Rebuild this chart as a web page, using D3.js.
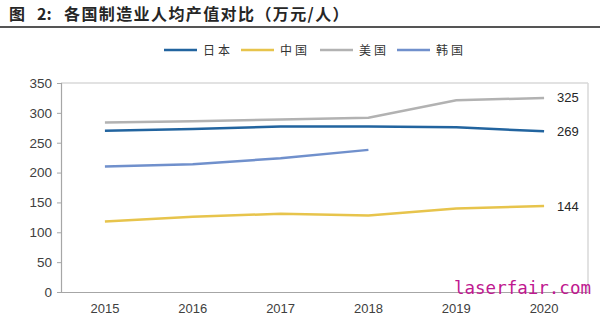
<!DOCTYPE html>
<html>
<head>
<meta charset="utf-8">
<script src="https://cdn.jsdelivr.net/npm/d3@7"></script>
<style>
  body { margin: 0; background: #fff; }
  svg { display: block; }
</style>
</head>
<body>
<div id="chart"></div>
<script>
// per-capita manufacturing output, 10k yuan per person
var years = ["2015", "2016", "2017", "2018", "2019", "2020"];
var japan = [270, 273, 277, 277, 276, 269];
var china = [118, 126, 131, 128, 140, 144];
var usa   = [284, 286, 289, 292, 321, 325];
var korea = [210, 214, 224, 238];
var yTicks = [0, 50, 100, 150, 200, 250, 300, 350];

var series = [
  {name: "日本", values: japan, color: "#22649f", label: true},
  {name: "中国", values: china, color: "#e7c44c", label: true},
  {name: "美国", values: usa,   color: "#b2b2b2", label: true},
  {name: "韩国", values: korea, color: "#7090cc", label: false}
];

var W = 600, H = 321;
var margin = {top: 83, right: 12, bottom: 29, left: 61},
    width = W - margin.left - margin.right,
    height = H - margin.top - margin.bottom;

var svg = d3.select("#chart").append("svg")
    .attr("width", W)
    .attr("height", H);

// title pieces and rule underneath
var title = svg.append("text")
    .attr("y", 20)
    .attr("font-family", "'Noto Sans CJK SC', sans-serif")
    .attr("font-size", 16)
    .attr("font-weight", "bold")
    .attr("fill", "#262626");
title.append("tspan").attr("x", 9).text("图");
title.append("tspan").attr("x", 37).text("2:");
title.append("tspan").attr("x", 64).attr("letter-spacing", 1.4)
    .text("各国制造业人均产值对比（万元/人）");

svg.append("line")
    .attr("x1", 0).attr("x2", W)
    .attr("y1", 27).attr("y2", 27)
    .attr("stroke", "#555")
    .attr("stroke-width", 2);

// legend
var legend = svg.append("g").attr("transform", "translate(164,50)");
var legX = [0, 77, 156, 233];
series.forEach(function(s, i) {
  var g = legend.append("g").attr("transform", "translate(" + legX[i] + ",0)");
  g.append("line")
      .attr("x1", 0).attr("x2", 33)
      .attr("y1", 0).attr("y2", 0)
      .attr("stroke", s.color)
      .attr("stroke-width", 2.5);
  g.append("text")
      .attr("x", 39)
      .attr("y", 4.5)
      .attr("font-family", "'Noto Sans CJK SC', sans-serif")
      .attr("font-size", 12)
      .attr("letter-spacing", 3)
      .attr("fill", "#333")
      .text(s.name);
});

var plot = svg.append("g")
    .attr("transform", "translate(" + margin.left + "," + margin.top + ")");

var x = d3.scaleBand()
    .domain(years)
    .range([0, width]);

var y = d3.scaleLinear()
    .domain([0, 350])
    .range([height, 0]);

// light frame on top and right
plot.append("line")
    .attr("x1", 0).attr("x2", width)
    .attr("y1", 0).attr("y2", 0)
    .attr("stroke", "#d9d9d9")
    .attr("stroke-width", 1.5);
plot.append("line")
    .attr("x1", width).attr("x2", width)
    .attr("y1", 0).attr("y2", height)
    .attr("stroke", "#d9d9d9")
    .attr("stroke-width", 1.5);

var yAxis = plot.append("g")
    .call(d3.axisLeft(y).tickValues(yTicks).tickSize(4).tickPadding(5));
yAxis.select(".domain").attr("stroke", "#a6a6a6").attr("stroke-width", 1.2);
yAxis.selectAll(".tick line").attr("stroke", "#a6a6a6");
yAxis.selectAll(".tick text")
    .attr("font-family", "Arial, 'Liberation Sans', sans-serif")
    .attr("font-size", 13.5)
    .attr("fill", "#404040");

var xAxis = plot.append("g")
    .attr("transform", "translate(0," + height + ")")
    .call(d3.axisBottom(x).tickSize(0).tickPadding(12));
xAxis.select(".domain").attr("stroke", "#a6a6a6").attr("stroke-width", 1.2);
xAxis.selectAll(".tick text")
    .attr("font-family", "Arial, 'Liberation Sans', sans-serif")
    .attr("font-size", 13)
    .attr("fill", "#404040");

var line = d3.line()
    .x(function(d, i) { return x(years[i]) + x.bandwidth() / 2; })
    .y(function(d) { return y(d); });

// draw grey first so blue sits on top
[2, 0, 3, 1].forEach(function(k) {
  var s = series[k];
  plot.append("path")
      .datum(s.values)
      .attr("fill", "none")
      .attr("stroke", s.color)
      .attr("stroke-width", 2.5)
      .attr("d", line);
});

// end value labels
series.filter(function(s) { return s.label; }).forEach(function(s) {
  var last = s.values.length - 1;
  plot.append("text")
      .attr("x", x(years[last]) + x.bandwidth() / 2 + 13)
      .attr("y", y(s.values[last]) + 4.5)
      .attr("font-family", "Arial, 'Liberation Sans', sans-serif")
      .attr("font-size", 13)
      .attr("fill", "#262626")
      .text(s.values[last]);
});

// site mark
svg.append("text")
    .attr("x", 454)
    .attr("y", 294)
    .attr("font-family", "'DejaVu Sans Mono', monospace")
    .attr("font-size", 17.5)
    .attr("fill", "#c01890")
    .text("laserfair.com");
</script>
</body>
</html>
